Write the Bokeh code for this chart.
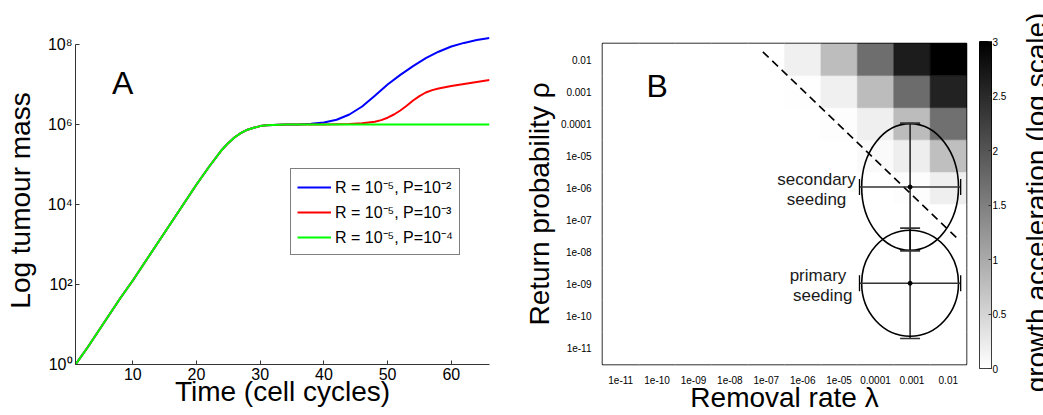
import numpy as np
from bokeh.plotting import figure
from bokeh.layouts import row
from bokeh.models import (FixedTicker, Legend, LegendItem, LinearColorMapper,
                          ColumnDataSource)
from bokeh.transform import linear_cmap
from bokeh.core.properties import value
from bokeh.embed import file_html
from bokeh.resources import INLINE

FONT = "Liberation Sans"

# ---------------- Panel A data (time in cell cycles, log10 tumour mass) -------------
t_green = [1, 3, 5, 8, 10, 12, 15, 18, 20, 22, 24, 25, 26, 27, 28, 29, 30, 31, 32, 34,
           36, 40, 50, 60, 66]
log10_green = [0, 0.45, 0.93, 1.65, 2.1, 2.58, 3.3, 4.02, 4.5, 4.95, 5.37, 5.54, 5.68,
               5.79, 5.87, 5.92, 5.96, 5.98, 5.99, 6.0, 6.0, 6.0, 6.0, 6.0, 6.0]

t_blue = [1, 3, 5, 8, 10, 12, 15, 18, 20, 22, 24, 25, 26, 27, 28, 29, 30, 31, 32, 34,
          36, 38, 40, 42, 44, 46, 48, 50, 52, 54, 56, 58, 60, 62, 64, 66]
log10_blue = [0, 0.45, 0.93, 1.65, 2.1, 2.58, 3.3, 4.02, 4.5, 4.95, 5.37, 5.54, 5.68,
              5.79, 5.87, 5.92, 5.96, 5.98, 5.99, 6.0, 6.0, 6.02, 6.05, 6.12, 6.25, 6.45,
              6.72, 7.0, 7.24, 7.46, 7.66, 7.82, 7.95, 8.04, 8.11, 8.16]

t_red = [1, 3, 5, 8, 10, 12, 15, 18, 20, 22, 24, 25, 26, 27, 28, 29, 30, 31, 32, 34,
         36, 40, 44, 46, 48, 49, 50, 51, 52, 53, 54, 55, 56, 57, 58, 60, 62, 64, 66]
log10_red = [0, 0.45, 0.93, 1.65, 2.1, 2.58, 3.3, 4.02, 4.5, 4.95, 5.37, 5.54, 5.68,
             5.79, 5.87, 5.92, 5.96, 5.98, 5.99, 6.0, 6.0, 6.0, 6.01, 6.03, 6.07, 6.11,
             6.17, 6.25, 6.35, 6.47, 6.6, 6.71, 6.8, 6.86, 6.9, 6.96, 7.01, 7.06, 7.11]

legend_labels = ["R = 10\u207b\u2075, P=10\u207b\u00b2",
                 "R = 10\u207b\u2075, P=10\u207b\u00b3",
                 "R = 10\u207b\u2075, P=10\u207b\u2074"]

x_ticks_A = [10, 20, 30, 40, 50, 60]
y_ticks_A = [1, 1e2, 1e4, 1e6, 1e8]
y_tick_labels_A = ["10\u2070", "10\u00b2", "10\u2074", "10\u2076", "10\u2078"]

# ---------------- Panel B data ----------------------------------------------------
decade_exponents = [-11, -10, -9, -8, -7, -6, -5, -4, -3, -2]
decade_labels = ["1e-11", "1e-10", "1e-09", "1e-08", "1e-07", "1e-06", "1e-05",
                 "0.0001", "0.001", "0.01"]
# growth acceleration (log scale), rows = return probability 1e-11 ... 0.01,
# columns = removal rate 1e-11 ... 0.01
accel = [
    [0, 0, 0, 0, 0, 0, 0, 0, 0, 0],        # 1e-11
    [0, 0, 0, 0, 0, 0, 0, 0, 0, 0],        # 1e-10
    [0, 0, 0, 0, 0, 0, 0, 0, 0, 0],        # 1e-09
    [0, 0, 0, 0, 0, 0, 0, 0, 0, 0],        # 1e-08
    [0, 0, 0, 0, 0, 0, 0, 0, 0, 0],        # 1e-07
    [0, 0, 0, 0, 0, 0, 0, 0, 0.03, 0.19],  # 1e-06
    [0, 0, 0, 0, 0, 0, 0, 0.06, 0.2, 0.76],  # 1e-05
    [0, 0, 0, 0, 0, 0, 0.03, 0.19, 0.79, 1.68],  # 0.0001
    [0, 0, 0, 0, 0, 0.02, 0.18, 0.79, 1.73, 2.6],  # 0.001
    [0, 0, 0, 0, 0, 0.18, 0.78, 1.7, 2.67, 3.0],   # 0.01
]

# seeding estimates (log10 removal rate, log10 return probability)
seed_names = ["secondary", "primary"]
seed_log_lambda = [-3.05, -3.05]
seed_log_p = [-5.97, -8.97]
seed_ellipse_halfwidth = [1.33, 1.33]
seed_ellipse_halfheight = [1.975, 1.65]
seed_err_lambda = [1.39, 1.39]
seed_err_p = [1.99, 1.72]

# dashed boundary (log10 removal rate, log10 return probability)
boundary_log_lambda = [-7.095, -1.722]
boundary_log_p = [-1.76, -7.604]

cbar_ticks = [0, 0.5, 1, 1.5, 2, 2.5, 3]
cbar_labels = ["0", "0.5", "1", "1.5", "2", "2.5", "3"]

H = 415
AXIS_COL = "#333333"


def style_title(ax):
    ax.axis_label_text_font = FONT
    ax.axis_label_text_font_size = "28px"
    ax.axis_label_text_font_style = "normal"
    ax.axis_label_text_color = "black"


# ================= Panel A =================
pA = figure(width=520, height=H, output_backend="svg", toolbar_location=None,
            x_range=(1, 66), y_range=(1, 10 ** 8.2), y_axis_type="log",
            min_border_left=75, min_border_right=31, min_border_top=36,
            min_border_bottom=51, frame_align=False)
pA.outline_line_color = None
pA.grid.visible = False

r_blue = pA.line(t_blue, [10 ** v for v in log10_blue], line_color="#0000ff", line_width=2)
r_red = pA.line(t_red, [10 ** v for v in log10_red], line_color="#ff0000", line_width=2)
r_green = pA.line(t_green, [10 ** v for v in log10_green], line_color="#00ff00", line_width=2)

pA.text(x=[8.4], y=[10 ** 7.03], text=["A"], text_font=value(FONT), text_font_size="32px",
        text_align="center", text_baseline="middle", text_color="black")

xa = pA.xaxis[0]
xa.ticker = FixedTicker(ticks=x_ticks_A)
xa.bounds = (1, 66)
ya = pA.yaxis[0]
ya.ticker = FixedTicker(ticks=y_ticks_A)
ya.bounds = (1, 1e8)
ya.major_label_overrides = {float(k): v for k, v in zip(y_ticks_A, y_tick_labels_A)}
for ax in (xa, ya):
    ax.axis_line_color = AXIS_COL
    ax.major_tick_line_color = AXIS_COL
    ax.major_tick_in = 4
    ax.major_tick_out = 0
    ax.minor_tick_line_color = None
    ax.major_label_text_font = FONT
    ax.major_label_text_font_size = "16px"
    ax.major_label_text_color = "black"
    style_title(ax)
xa.major_label_standoff = 3
xa.axis_label = "Time (cell cycles)"
xa.axis_label_standoff = -7
ya.major_label_standoff = 3
ya.axis_label = "Log tumour mass"
ya.axis_label_standoff = 9

legend = Legend(items=[LegendItem(label=legend_labels[0], renderers=[r_blue]),
                       LegendItem(label=legend_labels[1], renderers=[r_red]),
                       LegendItem(label=legend_labels[2], renderers=[r_green])],
                location=(215, 109))
legend.label_text_font = FONT
legend.label_text_font_size = "16px"
legend.label_text_color = "black"
legend.glyph_width = 34
legend.glyph_height = 20
legend.label_height = 23
legend.label_standoff = 4
legend.spacing = 2
legend.padding = 6
legend.margin = 0
legend.border_line_color = "black"
legend.border_line_width = 1.5
legend.background_fill_color = "white"
legend.background_fill_alpha = 1
pA.add_layout(legend)

# ================= Panel B =================
palette = ["#%02x%02x%02x" % (g, g, g) for g in range(255, -1, -1)]
mapper = LinearColorMapper(palette=palette, low=0, high=3)

cx, cy, cv = [], [], []
for i, ye in enumerate(decade_exponents):
    for j, xe in enumerate(decade_exponents):
        cx.append(xe)
        cy.append(ye)
        cv.append(accel[i][j])
cells = ColumnDataSource(dict(x=cx, y=cy, v=cv))

pB = figure(width=452, height=H, output_backend="svg", toolbar_location=None,
            x_range=(-11.5, -1.5), y_range=(-11.5, -1.5),
            min_border_left=73, min_border_right=6, min_border_top=43,
            min_border_bottom=48, frame_align=False)
pB.grid.visible = False
pB.outline_line_color = "black"
pB.outline_line_width = 1.5

pB.rect(x="x", y="y", width=1, height=1, source=cells,
        fill_color=linear_cmap("v", palette, 0, 3),
        line_color=linear_cmap("v", palette, 0, 3), line_width=0.5)

pB.line(boundary_log_lambda, boundary_log_p, line_color="black", line_width=1.6,
        line_dash="8 5")

xlo = [a - e for a, e in zip(seed_log_lambda, seed_err_lambda)]
xhi = [a + e for a, e in zip(seed_log_lambda, seed_err_lambda)]
ylo = [a - e for a, e in zip(seed_log_p, seed_err_p)]
yhi = [a + e for a, e in zip(seed_log_p, seed_err_p)]

pB.ellipse(x=seed_log_lambda, y=seed_log_p,
           width=[2 * v for v in seed_ellipse_halfwidth],
           height=[2 * v for v in seed_ellipse_halfheight],
           fill_color=None, line_color="black", line_width=1.6)
pB.segment(x0=seed_log_lambda, y0=ylo, x1=seed_log_lambda, y1=yhi,
           line_color="black", line_width=1.3)
pB.segment(x0=xlo, y0=seed_log_p, x1=xhi, y1=seed_log_p,
           line_color="#333333", line_width=1.6)
pB.scatter(x=seed_log_lambda + seed_log_lambda, y=ylo + yhi, marker="dash", size=20,
           line_color="#333333", line_width=1.6)
pB.scatter(x=xlo + xhi, y=seed_log_p + seed_log_p, marker="dash", size=16,
           angle=np.pi / 2, line_color="black", line_width=1.3)
pB.scatter(x=seed_log_lambda, y=seed_log_p, size=4, color="black")

pB.text(x=[-5.62, -5.62], y=[-5.73, -6.35], text=["secondary", "seeding"],
        text_font=value(FONT), text_font_size="17px", text_align="center",
        text_baseline="middle", text_color="#1a1a1a")
pB.text(x=[-5.58, -5.45], y=[-8.72, -9.34], text=["primary", "seeding"],
        text_font=value(FONT), text_font_size="17px", text_align="center",
        text_baseline="middle", text_color="#1a1a1a")
pB.text(x=[-10.0], y=[-2.82], text=["B"], text_font=value(FONT), text_font_size="32px",
        text_align="center", text_baseline="middle", text_color="black")

overrides = {float(k): v for k, v in zip(decade_exponents, decade_labels)}
for ax in (pB.xaxis[0], pB.yaxis[0]):
    ax.ticker = FixedTicker(ticks=decade_exponents)
    ax.major_label_overrides = overrides
    ax.axis_line_color = None
    ax.major_tick_line_color = None
    ax.minor_tick_line_color = None
    ax.major_label_text_font = FONT
    ax.major_label_text_font_size = "10px"
    ax.major_label_text_color = "black"
    ax.major_label_standoff = 5
    style_title(ax)
pB.xaxis[0].axis_label = "Removal rate \u03bb"
pB.xaxis[0].axis_label_standoff = -5
pB.yaxis[0].axis_label = "Return probability \u03c1"
pB.yaxis[0].axis_label_standoff = 3

# ================= Colour bar =================
pC = figure(width=37, height=H, output_backend="svg", toolbar_location=None,
            x_range=(0, 1), y_range=(0, 3), x_axis_location=None, y_axis_location="right",
            min_border_left=7, min_border_right=15, min_border_top=41, min_border_bottom=47,
            frame_align=False)
pC.grid.visible = False
pC.outline_line_color = "black"
pC.outline_line_width = 1
grad = np.linspace(0, 3, 256).reshape(256, 1)
pC.image(image=[grad], x=0, y=0, dw=1, dh=3, color_mapper=mapper)
ca = pC.yaxis[0]
ca.ticker = FixedTicker(ticks=cbar_ticks)
ca.major_label_overrides = {float(k): v for k, v in zip(cbar_ticks, cbar_labels)}
ca.axis_line_color = None
ca.major_tick_in = 3
ca.major_tick_out = 0
ca.major_tick_line_color = "#333333"
ca.minor_tick_line_color = None
ca.major_label_text_font = FONT
ca.major_label_text_font_size = "10px"
ca.major_label_text_color = "black"
ca.major_label_standoff = 1

pD = figure(width=34, height=H, output_backend="svg", toolbar_location=None,
            x_range=(0, 34), y_range=(0, H), x_axis_location=None, y_axis_location=None,
            min_border_left=0, min_border_right=0, min_border_top=0, min_border_bottom=0,
            frame_align=False)
pD.grid.visible = False
pD.outline_line_color = None
pD.text(x=[27], y=[H - 202], text=["growth acceleration (log scale)"], angle=np.pi / 2,
        text_font=value(FONT), text_font_size="28px", text_align="center",
        text_baseline="alphabetic", text_color="black")

layout = row(pA, pB, pC, pD)
open("out.html", "w").write(file_html(layout, INLINE))
